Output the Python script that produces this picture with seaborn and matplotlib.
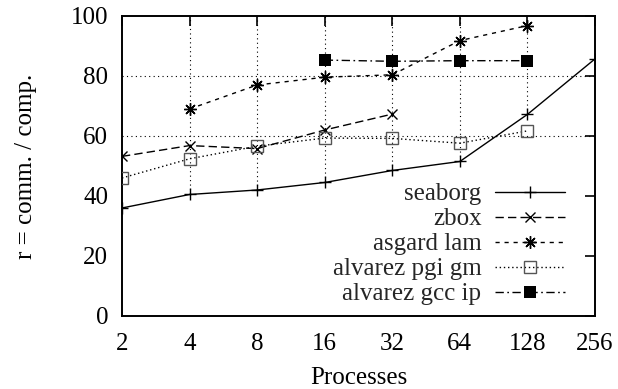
import matplotlib
matplotlib.use("Agg")
import matplotlib.pyplot as plt
import seaborn as sns
import numpy as np
import pandas as pd

procs = [2, 4, 8, 16, 32, 64, 128, 256]
seaborg = [36.0, 40.5, 42.0, 44.5, 48.5, 51.5, 67.2, 85.7]
zbox_x = [2, 4, 8, 16, 32]
zbox = [53.2, 56.8, 55.8, 62.0, 67.3]
asgard_x = [4, 8, 16, 32, 64, 128]
asgard = [69.0, 77.0, 79.6, 80.4, 91.8, 96.8]
pgi_x = [2, 4, 8, 16, 32, 64, 128]
pgi = [46.0, 52.4, 56.6, 59.3, 59.2, 57.6, 61.7]
gcc_x = [16, 32, 64, 128]
gcc = [85.3, 84.9, 85.1, 85.1]
yticks = [0, 20, 40, 60, 80, 100]
grid_y = [60, 80]

sns.set_theme(style="white")
plt.rcParams['font.family'] = ['Liberation Serif', 'DejaVu Serif']

fig = plt.figure(figsize=(6.18, 3.89), dpi=100)
ax = fig.add_axes([0.1974, 0.1877, 0.7654, 0.7712])

# grid (vertical lines from the seaborg curve upward, horizontal at 60, 80)
grid_kw = dict(color='black', lw=0.8, linestyle=(0, (1, 3)), zorder=1)
for xv, yv in zip(procs[1:-1], seaborg[1:-1]):
    ax.vlines(xv, yv, 100, **grid_kw)
for gy in grid_y:
    ax.hlines(gy, procs[0], procs[-1], **grid_kw)

lw = 1.0
sns.lineplot(x=procs, y=seaborg, ax=ax, color='black', lw=lw, marker='+',
             markersize=9, mew=1.0, mec='black', label='seaborg', zorder=3)
sns.lineplot(x=zbox_x, y=zbox, ax=ax, color='black', lw=lw, marker='x',
             markersize=7, mew=1.0, mec='black', label='zbox', zorder=3)
l2 = ax.get_lines()[-1]
sns.lineplot(x=asgard_x, y=asgard, ax=ax, color='black', lw=lw, marker=(8, 2, 0),
             markersize=9, mew=1.0, mec='black', label='asgard lam', zorder=3)
l3 = ax.get_lines()[-1]
sns.lineplot(x=pgi_x, y=pgi, ax=ax, color='black', lw=lw, marker='s',
             markersize=8, mew=1.0, mfc='none', mec='#555555', label='alvarez pgi gm', zorder=3)
l4 = ax.get_lines()[-1]
sns.lineplot(x=gcc_x, y=gcc, ax=ax, color='black', lw=lw, marker='s',
             markersize=8.5, mew=0, mfc='black', mec='black', label='alvarez gcc ip', zorder=3)
l5 = ax.get_lines()[-1]

l2.set_dashes((6, 3))
l3.set_dashes((3, 3.5))
l4.set_dashes((1, 2))
l5.set_dashes((6, 2.5, 1.2, 2.5))

ax.set_xscale('log', base=2)
ax.set_xlim(procs[0], procs[-1])
ax.set_ylim(yticks[0], yticks[-1])
ax.set_xticks(procs)
ax.set_xticklabels([str(p) for p in procs])
ax.minorticks_off()
ax.set_yticks(yticks)
ax.set_yticklabels([str(t) for t in yticks])

fs = 18
ax.tick_params(axis='both', which='major', direction='in', length=7.5, width=1.2,
               labelsize=fs, top=True, right=True, color='black', labelcolor='black')
ax.tick_params(axis='x', pad=12)
ax.tick_params(axis='y', pad=10)
for s in ax.spines.values():
    s.set_visible(True)
    s.set_color('black')
    s.set_linewidth(1.4)

ax.set_xlabel('Processes', fontsize=fs, labelpad=9, color='black')
ax.set_ylabel('r = comm. / comp.', fontsize=fs, labelpad=24, color='black')

handles, labels = ax.get_legend_handles_labels()
leg = ax.legend(handles, labels, loc='lower right', bbox_to_anchor=(0.937, 0.035),
                frameon=False, markerfirst=False, fontsize=fs, handlelength=2.8,
                handletextpad=0.55, labelspacing=0.1, borderpad=0, borderaxespad=0)

fig.savefig('out.png', dpi=100, facecolor='white')
